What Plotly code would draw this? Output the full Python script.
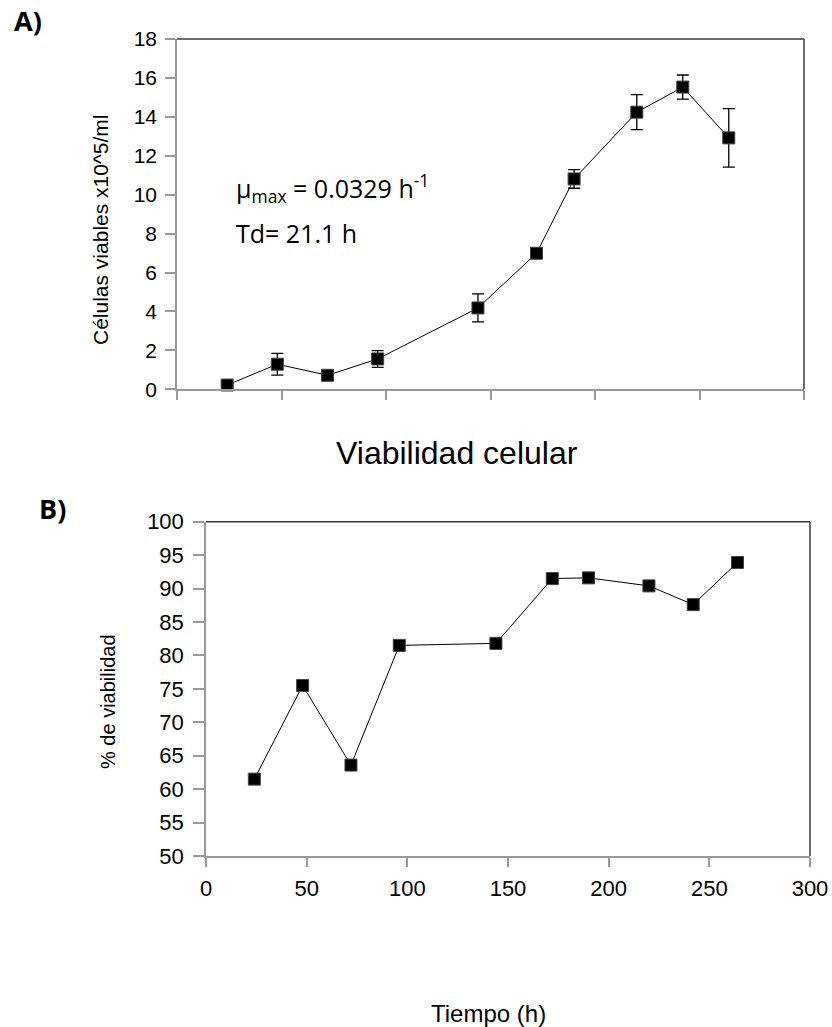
import plotly.graph_objects as go

# ---- data ----
time_h = [24, 48, 72, 96, 144, 172, 190, 220, 242, 264]
viable_cells = [0.22, 1.29, 0.72, 1.56, 4.18, 6.99, 10.81, 14.24, 15.53, 12.92]
viable_err = [0.10, 0.56, 0.15, 0.43, 0.72, 0.15, 0.48, 0.90, 0.62, 1.50]
viability_pct = [61.5, 75.5, 63.6, 81.5, 81.8, 91.5, 91.6, 90.4, 87.6, 93.9]
x_ticks = [0, 50, 100, 150, 200, 250, 300]
yA_ticks = [0, 2, 4, 6, 8, 10, 12, 14, 16, 18]
yB_ticks = [50, 55, 60, 65, 70, 75, 80, 85, 90, 95, 100]

W, H = 832, 1027
def px(x):
    return x / W
def py(y):
    return 1 - y / H

AX_GRAY = "#9a9a9a"
FRAME = "#3a3a3a"
FONT = "Liberation Sans"

fig = go.Figure()

fig.add_trace(go.Scatter(
    x=time_h, y=viable_cells, mode="lines+markers",
    line=dict(color="black", width=1),
    marker=dict(symbol="square", size=12, color="black", line=dict(color="#444", width=1)),
    error_y=dict(type="data", array=viable_err, visible=True, color="black", thickness=1.3, width=6),
    xaxis="x", yaxis="y", showlegend=False, cliponaxis=False))

fig.add_trace(go.Scatter(
    x=time_h, y=viability_pct, mode="lines+markers",
    line=dict(color="black", width=1),
    marker=dict(symbol="square", size=12, color="black", line=dict(color="#444", width=1)),
    xaxis="x2", yaxis="y2", showlegend=False, cliponaxis=False))

common_ax = dict(showgrid=False, zeroline=False, showline=True, linecolor=AX_GRAY, linewidth=1.5,
                 ticks="outside", tickcolor=AX_GRAY, tickwidth=1.5, mirror=False, automargin=False)

fig.update_layout(
    template="none",
    width=W, height=H, margin=dict(l=0, r=0, t=0, b=0, pad=0, autoexpand=False),
    paper_bgcolor="white", plot_bgcolor="white",
    font=dict(family=FONT, color="black"),
    xaxis=dict(domain=[px(177), px(804)], range=[0, 300], tickvals=x_ticks, showticklabels=False,
               ticklen=9, anchor="y", **common_ax),
    yaxis=dict(domain=[py(389.3), py(39)], range=[0, 18], tickvals=yA_ticks, ticklabelstandoff=4,
               ticklen=10, tickfont=dict(size=21, family=FONT, color="black"), anchor="x", **common_ax),
    xaxis2=dict(domain=[px(206), px(810)], range=[0, 300], tickvals=x_ticks, ticklabelstandoff=3,
                ticklen=9, tickfont=dict(size=22, family=FONT, color="black"), anchor="y2", **common_ax),
    yaxis2=dict(domain=[py(856), py(521.7)], range=[50, 100], tickvals=yB_ticks, ticklabelstandoff=5,
                ticklen=11, tickfont=dict(size=22, family=FONT, color="black"), anchor="x2", **common_ax),
)

# top/right frame lines
for xr, yr in [("x domain", "y domain"), ("x2 domain", "y2 domain")]:
    fig.add_shape(type="line", xref=xr, yref=yr, x0=0, x1=1, y0=1, y1=1, line=dict(color=FRAME, width=1.5))
    fig.add_shape(type="line", xref=xr, yref=yr, x0=1, x1=1, y0=0, y1=1, line=dict(color=FRAME, width=1.5))

ann = []
ann.append(dict(text="<b>A)</b>", x=px(12), y=py(21), xanchor="left", yanchor="middle",
                font=dict(family="Open Sans", size=27, color="black")))
ann.append(dict(text="<b>B)</b>", x=px(37), y=py(509), xanchor="left", yanchor="middle",
                font=dict(family="Open Sans", size=27, color="black")))
ann.append(dict(text="Viabilidad celular", x=px(457), y=py(453), xanchor="center", yanchor="middle",
                font=dict(family=FONT, size=32, color="black")))
ann.append(dict(text="Células viables x10^5/ml", x=px(100), y=py(230), xanchor="center", yanchor="middle",
                textangle=-90, font=dict(family=FONT, size=21, color="black")))
ann.append(dict(text="% de viabilidad", x=px(108), y=py(702), xanchor="center", yanchor="middle",
                textangle=-90, font=dict(family=FONT, size=20, color="black")))
ann.append(dict(text="Tiempo (h)", x=px(488), y=py(1013), xanchor="center", yanchor="middle",
                font=dict(family=FONT, size=24, color="black")))
ann.append(dict(text="μ<sub>max</sub> = 0.0329 h<sup>-1</sup>", x=px(234), y=py(188), xanchor="left", yanchor="middle",
                font=dict(family="Open Sans", size=25, color="black")))
ann.append(dict(text="Td= 21.1 h", x=px(234), y=py(233), xanchor="left", yanchor="middle",
                font=dict(family="Open Sans", size=25, color="black")))
for a in ann:
    a.update(xref="paper", yref="paper", showarrow=False)
fig.update_layout(annotations=ann)

fig.write_html("out.html")
